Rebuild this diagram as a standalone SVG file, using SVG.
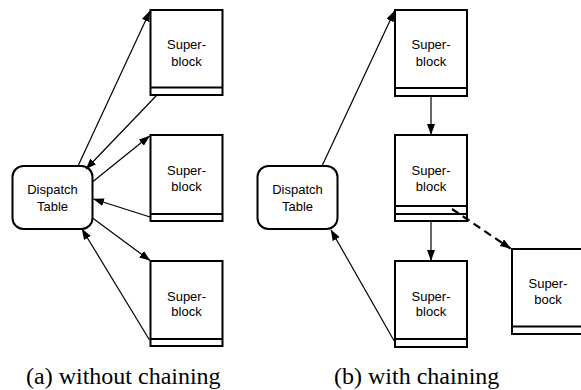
<svg xmlns="http://www.w3.org/2000/svg" width="581" height="390" viewBox="0 0 581 390">
<defs>
<style>
.blk{fill:#fff;stroke:#000;stroke-width:2}
.sep{stroke:#000;stroke-width:2}
.lbl{font-family:"Liberation Sans",Arial,sans-serif;font-size:13px;fill:#000;text-anchor:middle}
.cap{font-family:"Liberation Serif","Times New Roman",serif;font-size:24px;fill:#000}
.arr{stroke:#000;stroke-width:1.2;fill:none;marker-end:url(#ah)}
.dash{stroke:#000;stroke-width:2.2;fill:none;stroke-dasharray:8,5;marker-end:url(#ah)}
</style>
<marker id="ah" markerUnits="userSpaceOnUse" markerWidth="11" markerHeight="8" refX="10.5" refY="4" orient="auto">
<path d="M0,0 L11,4 L0,8 z" fill="#000"/>
</marker>
</defs>
<rect width="581" height="390" fill="#fff"/>

<g id="dispatch-a">
<rect class="blk" x="12.5" y="166" width="80" height="63" rx="11"/>
<text class="lbl" x="52.5" y="194">Dispatch</text>
<text class="lbl" x="52.5" y="211">Table</text>
</g>
<g id="sb-a1">
<rect class="blk" x="150.5" y="10" width="72" height="85"/>
<line class="sep" x1="150.5" y1="87.5" x2="222.5" y2="87.5"/>
<text class="lbl" x="186.5" y="49">Super-</text>
<text class="lbl" x="186.5" y="65.5">block</text>
</g>
<g id="sb-a2">
<rect class="blk" x="150.5" y="135" width="72" height="86"/>
<line class="sep" x1="150.5" y1="214" x2="222.5" y2="214"/>
<text class="lbl" x="186.5" y="174.5">Super-</text>
<text class="lbl" x="186.5" y="190.5">block</text>
</g>
<g id="sb-a3">
<rect class="blk" x="150.5" y="261" width="72" height="85"/>
<line class="sep" x1="150.5" y1="339" x2="222.5" y2="339"/>
<text class="lbl" x="186.5" y="301">Super-</text>
<text class="lbl" x="186.5" y="316">block</text>
</g>

<g id="dispatch-b">
<rect class="blk" x="257.5" y="166" width="80" height="63" rx="11"/>
<text class="lbl" x="297.5" y="194">Dispatch</text>
<text class="lbl" x="297.5" y="211">Table</text>
</g>
<g id="sb-b1">
<rect class="blk" x="395" y="10" width="72" height="86"/>
<line class="sep" x1="395" y1="88" x2="467" y2="88"/>
<text class="lbl" x="431" y="49">Super-</text>
<text class="lbl" x="431" y="65.5">block</text>
</g>
<g id="sb-b2">
<rect class="blk" x="395" y="135" width="72" height="86"/>
<line class="sep" x1="395" y1="206" x2="467" y2="206"/>
<line class="sep" x1="395" y1="214" x2="467" y2="214"/>
<text class="lbl" x="431" y="174.5">Super-</text>
<text class="lbl" x="431" y="190.5">block</text>
</g>
<g id="sb-b3">
<rect class="blk" x="395" y="261" width="72" height="86"/>
<line class="sep" x1="395" y1="339" x2="467" y2="339"/>
<text class="lbl" x="431" y="301">Super-</text>
<text class="lbl" x="431" y="316">block</text>
</g>
<g id="sb-b4">
<rect class="blk" x="512" y="249" width="72" height="85"/>
<line class="sep" x1="512" y1="326.5" x2="584" y2="326.5"/>
<text class="lbl" x="548" y="288">Super-</text>
<text class="lbl" x="548" y="304">bock</text>
</g>

<g id="connectors">
<line class="arr" x1="78" y1="166" x2="150" y2="11"/>
<line class="arr" x1="157" y1="95" x2="86" y2="169"/>
<line class="arr" x1="93" y1="181.5" x2="149.5" y2="136"/>
<line class="arr" x1="150" y1="217" x2="93.5" y2="199"/>
<line class="arr" x1="92.5" y1="218" x2="150" y2="260.5"/>
<line class="arr" x1="149.5" y1="340" x2="82" y2="229"/>
<line class="arr" x1="322" y1="166" x2="394.5" y2="11"/>
<line class="arr" x1="431" y1="96" x2="431" y2="134.5"/>
<line class="arr" x1="431" y1="221" x2="431" y2="260.5"/>
<line class="arr" x1="394.5" y1="341.5" x2="331" y2="230"/>
<line class="dash" x1="452" y1="209" x2="510.5" y2="248.5"/>
</g>

<text class="cap" x="26" y="383.5">(a) without chaining</text>
<text class="cap" x="334" y="383.5">(b) with chaining</text>
</svg>
